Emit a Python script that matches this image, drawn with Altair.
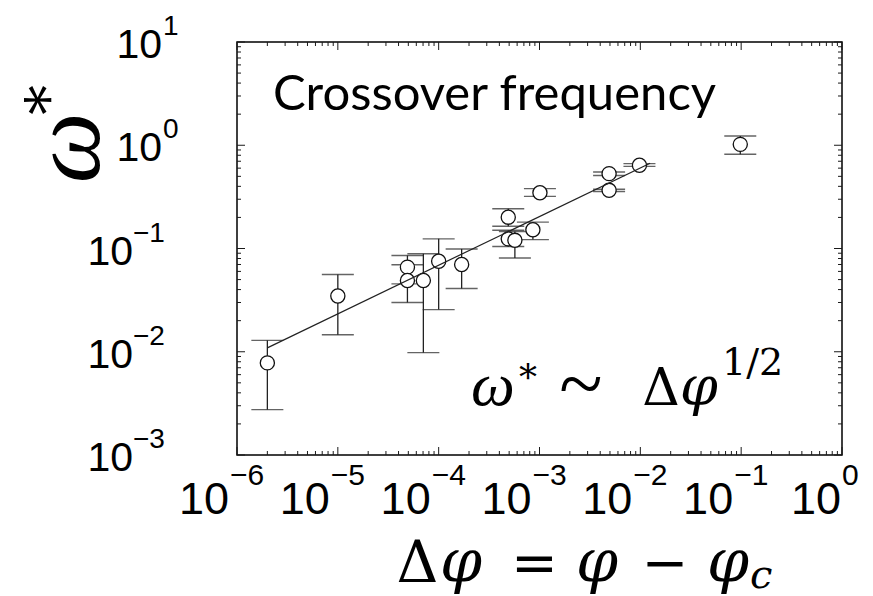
import altair as alt
import pandas as pd

# ---------------- data ----------------
dphi   = [2e-6, 1e-5, 4.9e-5, 4.9e-5, 7.05e-5, 1.0e-4, 1.69e-4, 4.9e-4, 4.9e-4, 5.7e-4,
          8.6e-4, 1.01e-3, 4.9e-3, 4.9e-3, 9.8e-3, 0.098]
omega  = [0.0078, 0.0347, 0.066, 0.049, 0.049, 0.0753, 0.070, 0.201, 0.124, 0.120,
          0.152, 0.347, 0.531, 0.366, 0.64, 1.02]
err_hi = [0.0129, 0.056, 0.0855, 0.0695, 0.089, 0.124, 0.099, 0.243, 0.150, 0.146,
          0.180, 0.38, 0.55, 0.375, 0.664, 1.23]
err_lo = [0.00275, 0.0146, 0.0454, 0.030, 0.0098, 0.0256, 0.041, 0.164, 0.1045, 0.081,
          0.122, 0.32, 0.51, 0.357, 0.625, 0.818]
fit_x = [2e-6, 0.0125]
fit_y = [0.0109, 0.67]

x_exps = [-6, -5, -4, -3, -2, -1, 0]
y_exps = [-3, -2, -1, 0, 1]
minor_k = [2, 3, 4, 5, 6, 7, 8, 9]

title_text = "Crossover frequency"
ylab_main = "ω"
ylab_star = "*"
law_pieces = ["ω", "*", "~", "Δ", "φ", "1/2"]
xlab_pieces = ["Δ", "φ", "=", "φ", "−", "φ", "c"]

# ---------------- derived tables ----------------
W, H = 605, 413
xs = alt.Scale(type="log", domain=[1e-6, 1], nice=False)
ys = alt.Scale(type="log", domain=[1e-3, 10], nice=False)

pts = pd.DataFrame({"x": dphi, "y": omega, "hi": err_hi, "lo": err_lo})
fit = pd.DataFrame({"x": fit_x, "y": fit_y})

def lab(e):
    return ("−" + str(-e)) if e < 0 else str(e)

xlab = pd.DataFrame({"v": [10.0 ** e for e in x_exps], "e": x_exps,
                     "lab": [lab(e) for e in x_exps]})
ylab = pd.DataFrame({"v": [10.0 ** e for e in y_exps], "e": y_exps,
                     "lab": [lab(e) for e in y_exps]})
x_major = pd.DataFrame({"v": [10.0 ** e for e in x_exps]})
y_major = pd.DataFrame({"v": [10.0 ** e for e in y_exps]})
x_minor = pd.DataFrame({"v": [k * 10.0 ** e for e in x_exps[:-1] for k in minor_k]})
y_minor = pd.DataFrame({"v": [k * 10.0 ** e for e in y_exps[:-1] for k in minor_k]})

one = pd.DataFrame({"d": [0]})
INK = "#1a1a1a"

layers = []

# inward ticks on all four sides
def xticks(df, L):
    base = alt.Chart(df).mark_rule(color=INK, strokeWidth=1)
    b = base.encode(x=alt.X("v:Q", scale=xs, axis=None), y=alt.value(H), y2=alt.value(H - L))
    t = base.encode(x=alt.X("v:Q", scale=xs, axis=None), y=alt.value(0), y2=alt.value(L))
    return [b, t]

def yticks(df, L):
    base = alt.Chart(df).mark_rule(color=INK, strokeWidth=1)
    l = base.encode(y=alt.Y("v:Q", scale=ys, axis=None), x=alt.value(0), x2=alt.value(L))
    r = base.encode(y=alt.Y("v:Q", scale=ys, axis=None), x=alt.value(W), x2=alt.value(W - L))
    return [l, r]

layers += xticks(x_major, 8) + xticks(x_minor, 4) + yticks(y_major, 8) + yticks(y_minor, 4)

# error bars
layers.append(alt.Chart(pts).mark_rule(color="#222", strokeWidth=1.3).encode(
    x=alt.X("x:Q", scale=xs, axis=None),
    y=alt.Y("lo:Q", scale=ys, axis=None), y2="hi:Q"))
for f in ["lo", "hi"]:
    layers.append(alt.Chart(pts).mark_tick(orient="horizontal", size=32, thickness=1.4,
                                           color="#222").encode(
        x=alt.X("x:Q", scale=xs, axis=None),
        y=alt.Y(f + ":Q", scale=ys, axis=None)))

# circles
layers.append(alt.Chart(pts).mark_point(shape="circle", fill="white", fillOpacity=1,
                                        stroke="#111", strokeWidth=1.3, size=200,
                                        opacity=1).encode(
    x=alt.X("x:Q", scale=xs, axis=None), y=alt.Y("y:Q", scale=ys, axis=None)))

# fit line
layers.append(alt.Chart(fit).mark_line(color="#222", strokeWidth=1.2).encode(
    x=alt.X("x:Q", scale=xs, axis=None), y=alt.Y("y:Q", scale=ys, axis=None)))

# x tick labels
SANS = "Liberation Sans"
for cond, d10, dex in [("datum.e < 0", -8, -7), ("datum.e >= 0", -1, 0)]:
    layers.append(alt.Chart(xlab).transform_filter(cond).mark_text(
        text="10", align="right", baseline="alphabetic", fontSize=45, font=SANS,
        color="black", dx=d10).encode(
        x=alt.X("v:Q", scale=xs, axis=None), y=alt.value(H + 59)))
    layers.append(alt.Chart(xlab).transform_filter(cond).mark_text(
        align="left", baseline="alphabetic", fontSize=30, font=SANS,
        color="black", dx=dex).encode(
        x=alt.X("v:Q", scale=xs, axis=None), y=alt.value(H + 30), text="lab:N"))

# y tick labels
for cond, x10, xex in [("datum.e < 0", -104, -104), ("datum.e >= 0", -75, -74)]:
    layers.append(alt.Chart(ylab).transform_filter(cond).mark_text(
        text="10", align="right", baseline="alphabetic", fontSize=41, font=SANS,
        color="black", dy=16).encode(
        y=alt.Y("v:Q", scale=ys, axis=None), x=alt.value(x10)))
    layers.append(alt.Chart(ylab).transform_filter(cond).mark_text(
        align="left", baseline="alphabetic", fontSize=28, font=SANS,
        color="black", dy=-7).encode(
        y=alt.Y("v:Q", scale=ys, axis=None), x=alt.value(xex), text="lab:N"))

# annotation text helper
SERIF = "DejaVu Serif"
TIMES = "Liberation Serif"
def txt(s, x, y, size, font=SERIF, style="normal", align="center", angle=0):
    m = alt.Chart(one).mark_text(text=s, align=align, baseline="alphabetic",
                                 fontSize=size, font=font, fontStyle=style,
                                 color="black", angle=angle)
    return m.encode(x=alt.value(x), y=alt.value(y))

# title inside
layers.append(txt(title_text, 36, 68, 49, font="Lato", align="left"))

# law  ω* ~ Δφ^{1/2}
layers.append(txt(law_pieces[0], 256, 363, 62, font=TIMES, style="italic"))
layers.append(txt(law_pieces[1], 291, 348, 36))
layers.append(txt(law_pieces[2], 344, 369, 80, font=TIMES))
layers.append(txt(law_pieces[3], 424, 363, 52))
layers.append(txt(law_pieces[4], 462, 363, 54, style="italic"))
layers.append(txt(law_pieces[5], 485, 333, 38, align="left"))

# x title  Δφ = φ − φ_c
xt = [(180.5, 58, "normal"), (224, 60, "italic"), (297.5, 56, "normal"),
      (360, 60, "italic"), (428, 56, "normal"), (491, 60, "italic")]
for s, (px, sz, st) in zip(xlab_pieces[:6], xt):
    layers.append(txt(s, px, 540, sz, style=st))
layers.append(txt(xlab_pieces[6], 513, 546, 40, style="italic", align="left"))

# y title  ω*  (rotated)
layers.append(txt(ylab_main, -138, 106, 100, font=TIMES, style="italic", angle=270))
layers.append(txt(ylab_star, -168, 58, 60, angle=270))

chart = alt.layer(*layers).properties(
    width=W, height=H,
    autosize=alt.AutoSizeParams(type="none"),
    padding={"left": 237, "top": 42, "right": 31, "bottom": 141},
    background="white",
).configure_view(stroke="black", strokeWidth=1.5)

chart.save("out.html", embed_options={"renderer": "svg", "actions": False})
